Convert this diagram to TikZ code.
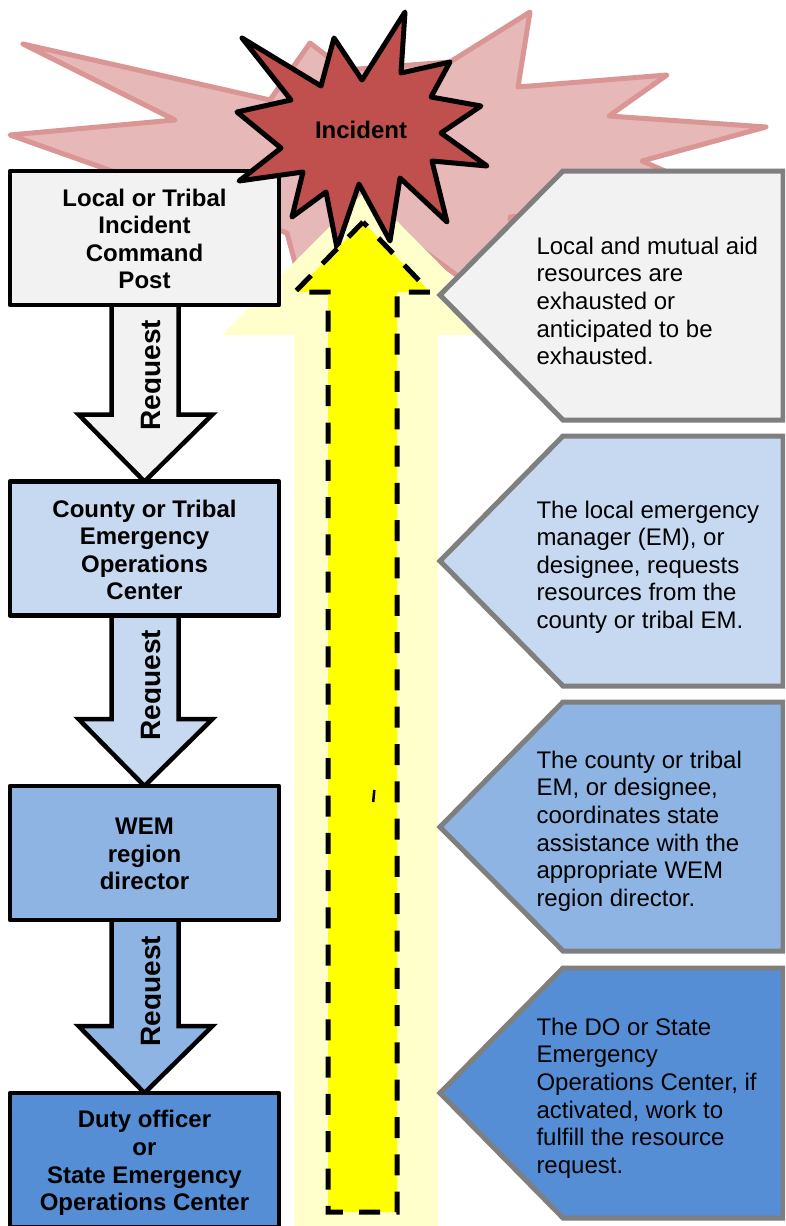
\documentclass[tikz,border=0pt]{standalone}
\usepackage{fontspec}
\setmainfont{Liberation Sans}
\definecolor{pg}{HTML}{F2F2F2}
\definecolor{pb1}{HTML}{C6D9F1}
\definecolor{pb2}{HTML}{8EB4E3}
\definecolor{pb3}{HTML}{558ED5}
\definecolor{burstfill}{HTML}{E6B8B7}
\definecolor{burstline}{HTML}{D99694}
\definecolor{starfill}{HTML}{C0504D}
\definecolor{paley}{HTML}{FFFFCC}
\definecolor{brightyellow}{HTML}{FFFF00}
\definecolor{edgegray}{HTML}{7F7F7F}
\pgfdeclarelayer{back}
\pgfsetlayers{back,main}
\tikzset{
  levelbox/.style={draw=black,line width=4.5pt,line join=round,minimum width=269pt,minimum height=134pt,inner sep=0pt,outer sep=0pt},
  leveltext/.style={align=center,inner sep=0pt,font=\fontsize{24}{27.6}\selectfont\bfseries},
  reqarrow/.style={draw=black,line width=4.5pt,line join=miter},
  infoshape/.style={draw=edgegray,line width=5pt,line join=miter},
  infotext/.style={anchor=west,align=left,inner sep=0pt,outer sep=0pt,font=\fontsize{24}{27.6}\selectfont},
  reqtext/.style={rotate=90,inner sep=0pt,font=\fontsize{28}{28}\selectfont\bfseries},
}
\newcommand{\reqarrowdraw}[3]{%
  \draw[reqarrow,fill=#3]
    ([xshift=-33pt]#1.south) --
    ([shift={(-33pt,67pt)}]#2.north) --
    ([shift={(-66pt,67pt)}]#2.north) --
    (#2.north) --
    ([shift={(68pt,67pt)}]#2.north) --
    ([shift={(34pt,67pt)}]#2.north) --
    ([xshift=34pt]#1.south);}
\begin{document}
\begin{tikzpicture}[x=1pt,y=-1pt]
\useasboundingbox (0,0) rectangle (785,1226);
\clip (0,0) rectangle (785,1226);
% pale burst
\draw[fill=burstfill,draw=burstline,line width=5pt,line join=round]
 (23,44) -- (270,100) -- (310,43) -- (345,70) -- (450,62) -- (530,12) -- (518,87) -- (667,75)
 -- (609,116) -- (766,127) -- (642,161) -- (720,195) -- (510,217) -- (530,320) -- (470,285)
 -- (413,243) -- (370,225) -- (305,300) -- (287,233) -- (10,135) -- (175,120) -- cycle;
% pale yellow arrow
\fill[paley] (366,190) -- (510,335) -- (438,335) -- (438,1226) -- (294,1226) -- (294,335) -- (222,335) -- cycle;
% level boxes
\node[levelbox,fill=pg]  (b1) at (144.5,238) {};
\node[levelbox,fill=pb1] (b2) at (144.5,548.5) {};
\node[levelbox,fill=pb2] (b3) at (144.5,853) {};
\node[levelbox,fill=pb3] (b4) at (144.5,1160) {};
\node[leveltext] (l1) at (144.5,239) {Local or Tribal\\Incident\\Command\\Post};
\node[leveltext] (l2) at (144.5,550) {County or Tribal\\Emergency\\Operations\\Center};
\node[leveltext] (l3) at (144.5,854) {WEM\\region\\director};
\node[leveltext] (l4) at (144.5,1163) {Duty officer\\or\\State Emergency\\Operations Center};
\begin{pgfonlayer}{back}
\fill[white] (0,0) rectangle (785,1226);
\reqarrowdraw{b1}{b2}{pg}
\reqarrowdraw{b2}{b3}{pb1}
\reqarrowdraw{b3}{b4}{pb2}
\end{pgfonlayer}
\begin{scope}
 \clip (100,300) rectangle (160,1100);
 \node[reqtext] (r1) at (154,375) {Request};
 \node[reqtext] (r2) at (154,685) {Request};
 \node[reqtext] (r3) at (154,991) {Request};
\end{scope}
% incident star
\draw[fill=starfill,draw=black,line width=5pt,line join=round]
 (405,12) -- (362,80) -- (334,38) -- (321,86) -- (242,38) -- (291,100) -- (237,112) -- (281,148)
 -- (239,181) -- (303,172) -- (292,217) -- (326,192) -- (337,248) -- (359,184) -- (390,241)
 -- (400,178) -- (447,222) -- (432,161) -- (487,166) -- (441,133) -- (481,106) -- (431,97)
 -- (450,62) -- (401,73) -- cycle;
\node[font=\fontsize{24}{27.6}\selectfont\bfseries] (inc) at (361,130) {Incident};
% yellow arrow
\draw[fill=brightyellow,draw=black,line width=5pt,dash pattern=on 21pt off 16.3pt,line join=miter]
 (363,222) -- (295,292) -- (328,292) -- (328,1212) -- (397,1212) -- (397,292) -- (430,292) -- cycle;
\draw[black,line width=2.5pt] (374.3,790) -- (373.2,802);
% info pentagons
\draw[infoshape,fill=pg]  (440,295) -- (563,171) -- (783,171) -- (783,420) -- (563,420) -- cycle;
\draw[infoshape,fill=pb1] (440,561) -- (563,436) -- (783,436) -- (783,686) -- (563,686) -- cycle;
\draw[infoshape,fill=pb2] (440,827) -- (563,702) -- (783,702) -- (783,951) -- (563,951) -- cycle;
\draw[infoshape,fill=pb3] (440,1093) -- (563,968) -- (783,968) -- (783,1218) -- (563,1218) -- cycle;
\node[infotext] (t1) at (536.5,301) {Local and mutual aid\\resources are\\exhausted or\\anticipated to be\\exhausted.};
\node[infotext] (t2) at (536.5,567) {The local emergency\\manager (EM), or\\designee, requests\\resources from the\\county or tribal EM.};
\node[infotext] (t3) at (536.5,831) {The county or tribal\\EM, or designee,\\coordinates state\\assistance with the\\appropriate WEM\\region director.};
\node[infotext] (t4) at (536.5,1098) {The DO or State\\Emergency\\Operations Center, if\\activated, work to\\fulfill the resource\\request.};
\end{tikzpicture}
\end{document}
